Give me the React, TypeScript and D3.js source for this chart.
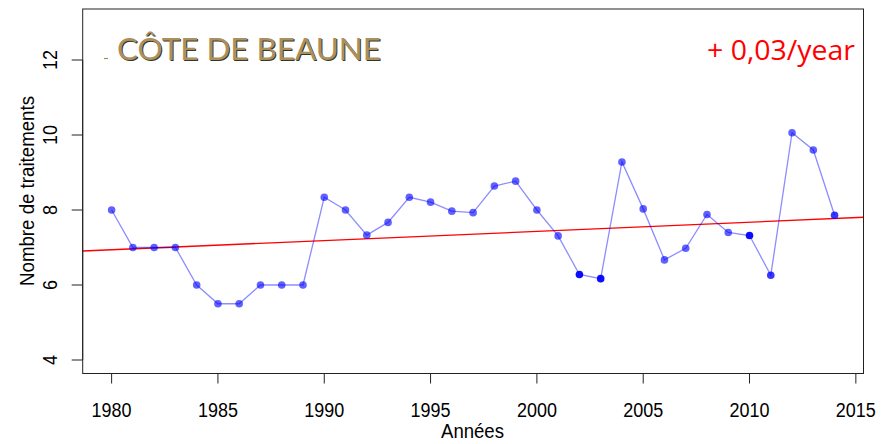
import React from "react";
import * as d3 from "d3";

const years = [1980,1981,1982,1983,1984,1985,1986,1987,1988,1989,1990,1991,1992,1993,1994,1995,1996,1997,1998,1999,2000,2001,2002,2003,2004,2005,2006,2007,2008,2009,2010,2011,2012,2013,2014];
const values = [8.0,7.0,7.0,7.0,6.0,5.5,5.5,6.0,6.0,6.0,8.34,8.0,7.33,7.67,8.34,8.21,7.97,7.93,8.64,8.77,8.0,7.31,6.28,6.17,9.28,8.03,6.67,6.98,7.88,7.40,7.32,6.26,10.06,9.6,7.86];
// number of overlapping observations at each point (darker dots)
const overlaps = [1,1,1,1,1,1,1,1,1,1,1,1,1,1,1,1,1,1,1,1,1,1,3,3,1,1,1,1,1,1,3,2,1,1,2];
const xTicks = [1980,1985,1990,1995,2000,2005,2010,2015];
const yTicks = [4,6,8,10,12];
// fitted trend (value in 1980 and yearly slope)
const trendAt1980 = 6.94;
const trendSlope = 0.0245;
const title = "CÔTE DE BEAUNE";
const trendLabel = "+ 0,03/year";

export default function App() {
  const W = 892, H = 444;
  const left = 82.7, right = 863.5, top = 9, bottom = 373.5;
  const x = d3.scaleLinear().domain([1978.64, 2015.36]).range([left, right]);
  const y = d3.scaleLinear().domain([3.64, 13.36]).range([bottom, top]);
  const trend = (yr: number) => trendAt1980 + trendSlope * (yr - 1980);
  const opac = [0, 0.62, 0.78, 0.95];

  const line = d3.line<number>().x((d, i) => x(years[i])).y(d => y(d));
  const font = "'Liberation Sans', Arial, sans-serif";

  return (
    <svg width={W} height={H} style={{ position: "absolute", left: 0, top: 0, background: "#fff" }}>
      <defs>
        <clipPath id="plot"><rect x={left} y={top} width={right - left} height={bottom - top} /></clipPath>
      </defs>
      <line clipPath="url(#plot)" x1={left} x2={right} y1={y(trend(1978.64))} y2={y(trend(2015.36))} stroke="#ff0000" strokeWidth={1.3} />
      <path d={line(values)!} fill="none" stroke="rgba(0,0,255,0.45)" strokeWidth={1.3} />
      {values.map((v, i) => (
        <circle key={i} cx={x(years[i])} cy={y(v)} r={3.8} fill="#0000ff" fillOpacity={opac[overlaps[i]]} />
      ))}
      <rect x={left} y={top} width={right - left} height={bottom - top} fill="none" stroke="#222" strokeWidth={1} />
      {xTicks.map(t => (
        <g key={t}>
          <line x1={x(t)} x2={x(t)} y1={bottom} y2={bottom + 10} stroke="#222" />
          <text x={x(t)} y={416.5} textAnchor="middle" fontFamily={font} fontSize={20} textLength={40} lengthAdjust="spacingAndGlyphs">{t}</text>
        </g>
      ))}
      <text x={472.5} y={438.3} textAnchor="middle" fontFamily={font} fontSize={20} textLength={63} lengthAdjust="spacingAndGlyphs">Années</text>
      <line x1={left} x2={left} y1={y(4)} y2={y(12)} stroke="#222" />
      {yTicks.map(t => (
        <g key={t}>
          <line x1={left - 11} x2={left} y1={y(t)} y2={y(t)} stroke="#222" />
          <text transform={`translate(56.5,${y(t)}) rotate(-90)`} textAnchor="middle" fontFamily={font} fontSize={20} textLength={t >= 10 ? 20 : 10} lengthAdjust="spacingAndGlyphs">{t}</text>
        </g>
      ))}
      <text transform={`translate(33.5,${191}) rotate(-90)`} textAnchor="middle" fontFamily={font} fontSize={20} textLength={190} lengthAdjust="spacingAndGlyphs">Nombre de traitements</text>
      <line x1={104} x2={108} y1={58.5} y2={58.5} stroke="#a88c5c" strokeWidth={1.2} />
      <text x={118} y={60.5} fontFamily="Lato, 'Open Sans', sans-serif" fontSize={31} fill="#2f3a2a" textLength={264} lengthAdjust="spacingAndGlyphs">{title}</text>
      <text x={117} y={60} fontFamily="Lato, 'Open Sans', sans-serif" fontSize={31} fill="#ad8f5e" textLength={264} lengthAdjust="spacingAndGlyphs">{title}</text>
      <text x={855} y={60} textAnchor="end" fontFamily="'Open Sans', sans-serif" fontSize={28} fill="#ff0000" textLength={148} lengthAdjust="spacingAndGlyphs">{trendLabel}</text>
    </svg>
  );
}
